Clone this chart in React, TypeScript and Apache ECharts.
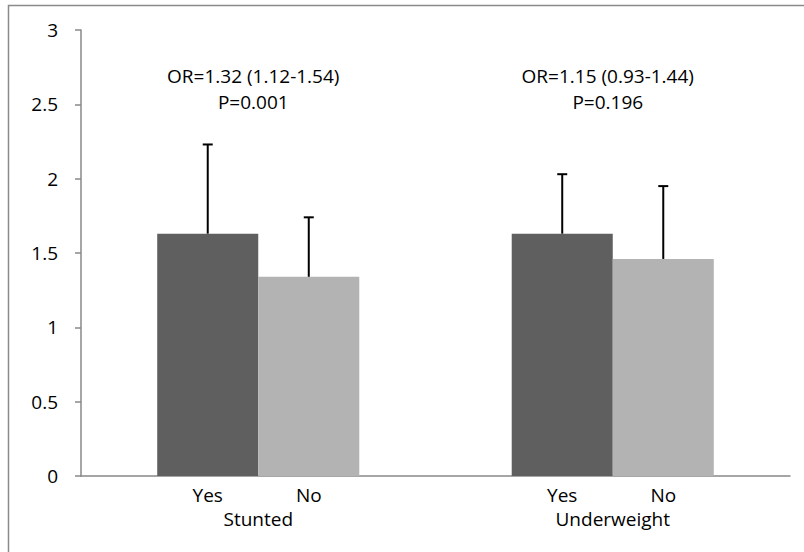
import React, { useEffect, useRef } from "react";
import * as echarts from "echarts";

const categories = ["Stunted", "Underweight"];
const groupNames = ["Yes", "No"];
const yesValues = [1.63, 1.63];
const noValues = [1.34, 1.46];
const yesUpper = [2.23, 2.03];
const noUpper = [1.74, 1.95];
const orTexts = ["OR=1.32 (1.12-1.54)", "OR=1.15 (0.93-1.44)"];
const pTexts = ["P=0.001", "P=0.196"];
const yTicks = [0, 0.5, 1, 1.5, 2, 2.5, 3];

const FONT = "'Open Sans', sans-serif";
const FS = 19;
const GAP = 0.43;

export default function App() {
  const ref = useRef<HTMLDivElement>(null);
  useEffect(() => {
    document.body.style.margin = "0";
    const chart = echarts.init(ref.current!, null, { renderer: "svg" });
    const errSeries = (side: number, vals: number[], upper: number[], name: string) => ({
      type: "custom",
      name: name + " error",
      z: 5,
      silent: true,
      data: categories.map((_, i) => [i, vals[i], upper[i]]),
      renderItem: (params: any, api: any) => {
        const idx = api.value(0);
        const bandW = api.size([1, 0])[0];
        const barW = (bandW * (1 - GAP)) / 2;
        const base = api.coord([idx, api.value(1)]);
        const top = api.coord([idx, api.value(2)]);
        const x = base[0] + (side * barW) / 2;
        return {
          type: "group",
          children: [
            { type: "line", shape: { x1: x, y1: base[1], x2: x, y2: top[1] }, style: { stroke: "#000", lineWidth: 2 } },
            { type: "line", shape: { x1: x - 5, y1: top[1], x2: x + 5, y2: top[1] }, style: { stroke: "#000", lineWidth: 2 } },
          ],
        };
      },
    });
    const option: any = {
      animation: false,
      textStyle: { fontFamily: FONT },
      grid: { left: 81, right: 14, top: 30, bottom: 76, containLabel: false },
      xAxis: {
        type: "category",
        data: categories,
        axisLine: { lineStyle: { color: "#888", width: 1.5 } },
        axisTick: { show: false },
        axisLabel: { color: "#000", fontSize: FS, margin: 33, fontFamily: FONT },
      },
      yAxis: {
        type: "value",
        min: yTicks[0],
        max: yTicks[yTicks.length - 1],
        interval: 0.5,
        axisLine: { show: true, lineStyle: { color: "#888", width: 1.5 } },
        axisTick: { show: true, length: 6, lineStyle: { color: "#888", width: 1.5 } },
        axisLabel: { color: "#000", fontSize: FS, margin: 23, fontFamily: FONT },
        splitLine: { show: false },
      },
      graphic: [
        {
          type: "rect",
          shape: { x: 8.5, y: 5.5, width: 820, height: 580 },
          style: { fill: "none", stroke: "#8a8a8a", lineWidth: 1.5 },
          silent: true,
        },
      ],
      series: [
        {
          type: "bar",
          name: groupNames[0],
          data: yesValues,
          barGap: "0%",
          barCategoryGap: GAP * 100 + "%",
          itemStyle: { color: "#5f5f5f" },
          label: { show: true, position: "bottom", distance: 9, formatter: "{a}", color: "#000", fontSize: FS, fontFamily: FONT },
        },
        {
          type: "bar",
          name: groupNames[1],
          data: noValues,
          barGap: "0%",
          barCategoryGap: GAP * 100 + "%",
          itemStyle: { color: "#b3b3b3" },
          label: { show: true, position: "bottom", distance: 9, formatter: "{a}", color: "#000", fontSize: FS, fontFamily: FONT },
        },
        errSeries(-1, yesValues, yesUpper, groupNames[0]),
        errSeries(1, noValues, noUpper, groupNames[1]),
        {
          type: "custom",
          name: "annotations",
          silent: true,
          z: 6,
          data: categories.map((_, i) => [i, 2.6]),
          renderItem: (params: any, api: any) => {
            const i = params.dataIndex;
            const p = api.coord([api.value(0), api.value(1)]);
            return {
              type: "text",
              x: p[0] - 5,
              y: p[1],
              style: {
                text: orTexts[i] + "\n" + pTexts[i],
                align: "center",
                verticalAlign: "middle",
                fontSize: FS,
                lineHeight: 26,
                fontFamily: FONT,
                fill: "#000",
              },
            };
          },
        },
      ],
    };
    chart.setOption(option);
    return () => chart.dispose();
  }, []);
  return <div ref={ref} style={{ width: 804, height: 552 }} />;
}
